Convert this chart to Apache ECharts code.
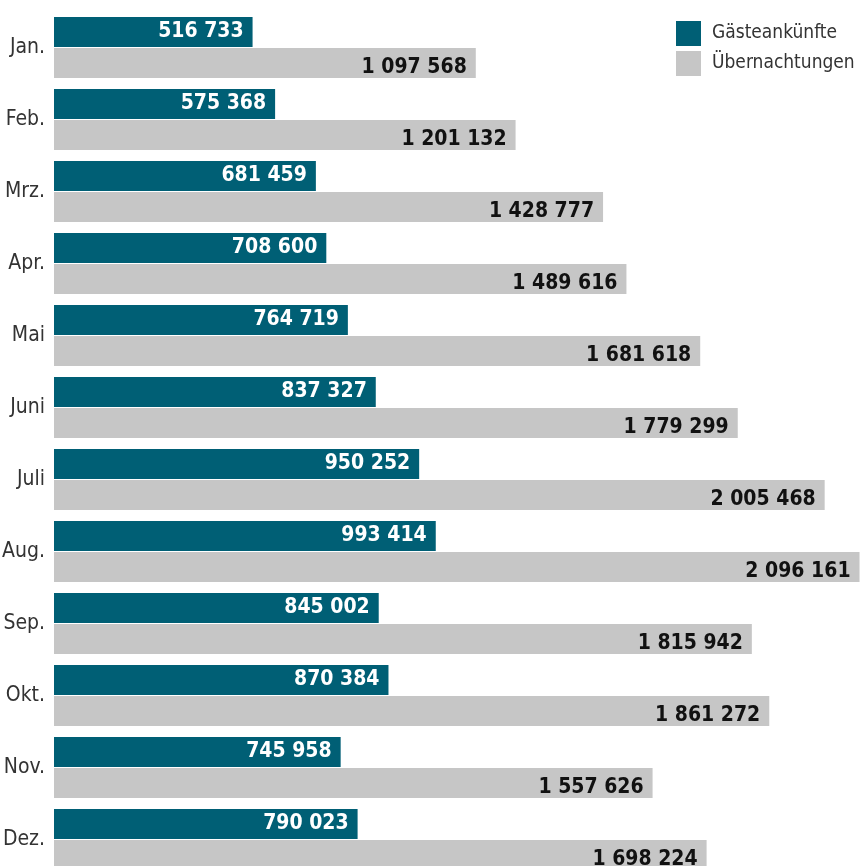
<!DOCTYPE html>
<html>
<head>
<meta charset="utf-8">
<script src="https://cdn.jsdelivr.net/npm/echarts@6/dist/echarts.min.js"></script>
<style>
html, body {margin: 0; padding: 0; background: #fff;}
#chart {width: 861px; height: 866px;}
</style>
</head>
<body>
<div id="chart"></div>
<script>
var months = ['Jan.', 'Feb.', 'Mrz.', 'Apr.', 'Mai', 'Juni', 'Juli', 'Aug.', 'Sep.', 'Okt.', 'Nov.', 'Dez.'];
var ankuenfte = [516733, 575368, 681459, 708600, 764719, 837327, 950252, 993414, 845002, 870384, 745958, 790023];
var uebernachtungen = [1097568, 1201132, 1428777, 1489616, 1681618, 1779299, 2005468, 2096161, 1815942, 1861272, 1557626, 1698224];

var font = '"DejaVu Sans Condensed", sans-serif';

function fmt(p) {
    return String(p.value).replace(/\B(?=(\d{3})+(?!\d))/g, ' ');
}

var chart = echarts.init(document.getElementById('chart'));
chart.setOption({
    animation: false,
    textStyle: {fontFamily: font},
    legend: {
        orient: 'vertical',
        left: 671,
        top: 16,
        icon: 'rect',
        itemWidth: 25,
        itemHeight: 25,
        itemGap: 5,
        textStyle: {fontFamily: font, fontSize: 19, color: '#333', padding: [0, 0, 0, 6]},
        data: ['Gästeankünfte', 'Übernachtungen']
    },
    grid: {left: 54, right: 0, top: 11.5, height: 864, containLabel: false, outerBoundsMode: 'none'},
    xAxis: {
        type: 'value',
        min: 0,
        max: 2100000,
        show: false
    },
    yAxis: {
        type: 'category',
        inverse: true,
        data: months,
        axisLine: {show: false},
        axisTick: {show: false},
        axisLabel: {fontFamily: font, fontSize: 21, color: '#333', margin: 9}
    },
    series: [
        {
            name: 'Gästeankünfte',
            type: 'bar',
            data: ankuenfte,
            barWidth: 30,
            barGap: '4%',
            itemStyle: {color: '#005f75'},
            label: {
                show: true,
                position: 'insideRight',
                distance: 9,
                formatter: fmt,
                fontFamily: font,
                fontSize: 21,
                fontWeight: 'bold',
                color: '#fff'
            }
        },
        {
            name: 'Übernachtungen',
            type: 'bar',
            data: uebernachtungen,
            barWidth: 30,
            itemStyle: {color: '#c6c6c6'},
            label: {
                show: true,
                position: 'insideRight',
                distance: 9,
                offset: [0, 4],
                formatter: fmt,
                fontFamily: font,
                fontSize: 21,
                fontWeight: 'bold',
                color: '#111'
            }
        }
    ]
});
</script>
</body>
</html>
